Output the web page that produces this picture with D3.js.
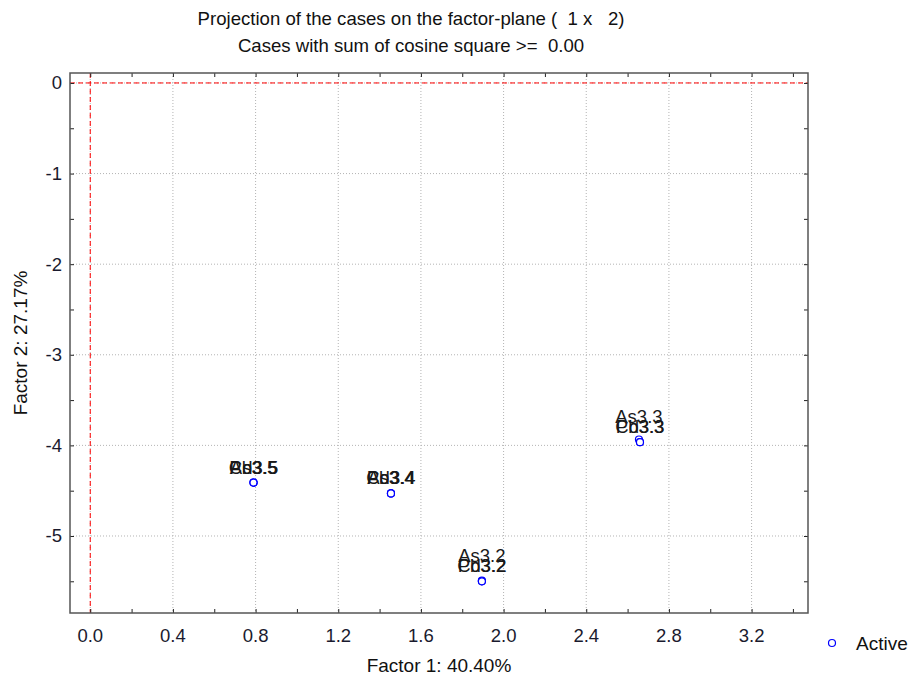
<!DOCTYPE html>
<html><head><meta charset="utf-8">
<script src="https://cdn.jsdelivr.net/npm/d3@7"></script>
<style>body{margin:0;background:#fff;} text{font-family:"Liberation Sans",Arial,sans-serif;}</style>
</head><body>
<svg id="c" width="912" height="679"></svg>
<script>
const caseNames = ["As3.2","Cd3.2","Pb3.2","As3.3","Cd3.3","Pb3.3","As3.4","Cd3.4","Pb3.4","As3.5","Cd3.5","Pb3.5"];
const factor1 = [1.895,1.895,1.895,2.655,2.66,2.66,1.455,1.455,1.455,0.79,0.79,0.79];
const factor2 = [-5.492,-5.50,-5.50,-3.935,-3.965,-3.965,-4.53,-4.53,-4.53,-4.41,-4.41,-4.41];
const xTicks = [0.0,0.4,0.8,1.2,1.6,2.0,2.4,2.8,3.2];
const yTicks = [0,-1,-2,-3,-4,-5];
const titleLines = ["Projection of the cases on the factor-plane (  1 x   2)","Cases with sum of cosine square >=  0.00"];

const svg = d3.select("#c");
const L=70,R=808,T=73,B=613;
const x = d3.scaleLinear().domain([-0.098,3.473]).range([L,R]);
const y = d3.scaleLinear().domain([-5.85,0.11]).range([B,T]);

// grid
const g = svg.append("g");
g.selectAll(".gx").data(xTicks).join("line").attr("x1",d=>x(d)).attr("x2",d=>x(d)).attr("y1",T).attr("y2",B)
  .attr("stroke","#b4b4b4").attr("stroke-dasharray","1,2");
g.selectAll(".gy").data(yTicks).join("line").attr("y1",d=>y(d)).attr("y2",d=>y(d)).attr("x1",L).attr("x2",R)
  .attr("stroke","#b4b4b4").attr("stroke-dasharray","1,2");
// zero reference lines
svg.append("line").attr("x1",x(0)).attr("x2",x(0)).attr("y1",T).attr("y2",B).attr("stroke","#ff0000").attr("stroke-dasharray","5,3");
svg.append("line").attr("y1",y(0)).attr("y2",y(0)).attr("x1",L).attr("x2",R).attr("stroke","#ff0000").attr("stroke-dasharray","5,3");

// axes with inward ticks
const xMinor = d3.range(0,3.5,0.2);
const yMinor = d3.range(0,-6,-0.5);
const axB = d3.axisBottom(x).tickValues(xMinor).tickSize(-4).tickFormat("");
const axT = d3.axisTop(x).tickValues(xMinor).tickSize(-4).tickFormat("");
const axL = d3.axisLeft(y).tickValues(yMinor).tickSize(-4).tickFormat("");
const axR = d3.axisRight(y).tickValues(yMinor).tickSize(-4).tickFormat("");
[[axB,`translate(0,${B})`],[axT,`translate(0,${T})`],[axL,`translate(${L},0)`],[axR,`translate(${R},0)`]].forEach(([a,t])=>{
  const s = svg.append("g").attr("transform",t).call(a);
  s.select(".domain").remove();
  s.selectAll("line").attr("stroke","#222").attr("stroke-width",1);
});
svg.append("rect").attr("x",L).attr("y",T).attr("width",R-L).attr("height",B-T).attr("fill","none").attr("stroke","#555").attr("stroke-width",1.5);

// tick labels
svg.selectAll(".xl").data(xTicks).join("text").attr("x",d=>x(d)).attr("y",B+29).attr("text-anchor","middle")
  .attr("font-size",18.5).attr("fill","#1a1a2e").text(d=>d.toFixed(1));
svg.selectAll(".yl").data(yTicks).join("text").attr("x",L-8).attr("y",d=>y(d)+6.5).attr("text-anchor","end")
  .attr("font-size",18.5).attr("fill","#1a1a2e").text(d=>d===0?"0":"-"+Math.abs(d));

// titles
svg.selectAll(".tt").data(titleLines).join("text").attr("x",411).attr("y",(d,i)=>25+i*27).attr("text-anchor","middle")
  .attr("font-size",18.6).attr("fill","#111").attr("xml:space","preserve").text(d=>d);
svg.append("text").attr("x",439).attr("y",672).attr("text-anchor","middle").attr("font-size",19).attr("fill","#111").text("Factor 1: 40.40%");
svg.append("text").attr("transform","translate(27,343) rotate(-90)").attr("text-anchor","middle").attr("font-size",19).attr("fill","#111").text("Factor 2: 27.17%");

// data
const pts = caseNames.map((n,i)=>({n, px:x(factor1[i]), py:y(factor2[i])}));
// label positions with simple collision nudge
const labs = pts.map(p=>({n:p.n, lx:p.px, ly:p.py-9}));
labs.sort((a,b)=>b.ly-a.ly);
for(let i=0;i<labs.length;i++){
  for(let j=0;j<i;j++){
    const a=labs[i], b=labs[j];
    const dy=b.ly-a.ly;
    if(Math.abs(a.lx-b.lx)<20 && dy>0.5 && dy<10){ a.ly=b.ly-10; }
  }
}
svg.selectAll(".pt").data(pts).join("circle").attr("cx",d=>d.px).attr("cy",d=>d.py).attr("r",3.5)
  .attr("fill","#fff").attr("stroke","#0000ff").attr("stroke-width",1.2);
svg.selectAll(".lb").data(labs).join("text").attr("x",d=>d.lx).attr("y",d=>d.ly).attr("text-anchor","middle")
  .attr("font-size",18.5).attr("fill","#1a1a1a").text(d=>d.n);

// legend
svg.append("circle").attr("cx",832).attr("cy",643).attr("r",3.5).attr("fill","#fff").attr("stroke","#0000ff").attr("stroke-width",1.2);
svg.append("text").attr("x",856).attr("y",650).attr("font-size",19).attr("fill","#111").text("Active");
</script>
</body></html>
